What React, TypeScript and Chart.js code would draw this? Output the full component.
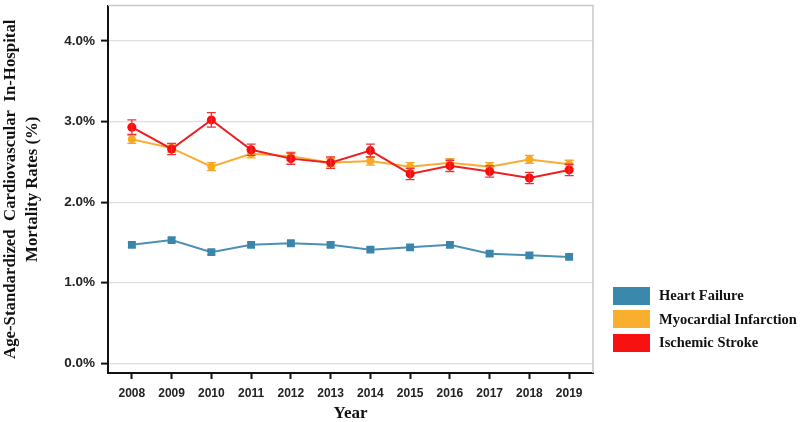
import { useEffect, useRef } from "react";
import { Chart, registerables } from "chart.js";
Chart.register(...registerables);

const years = [2008, 2009, 2010, 2011, 2012, 2013, 2014, 2015, 2016, 2017, 2018, 2019];
const heartFailure = [1.47, 1.53, 1.38, 1.47, 1.49, 1.47, 1.41, 1.44, 1.47, 1.36, 1.34, 1.32];
const myocardialInfarction = [2.78, 2.67, 2.44, 2.6, 2.57, 2.49, 2.51, 2.44, 2.49, 2.44, 2.53, 2.47];
const ischemicStroke = [2.93, 2.66, 3.02, 2.65, 2.54, 2.49, 2.64, 2.35, 2.45, 2.38, 2.3, 2.4];
const heartFailureErr = [0.03, 0.03, 0.03, 0.03, 0.03, 0.03, 0.03, 0.03, 0.03, 0.03, 0.03, 0.03];
const myocardialInfarctionErr = [0.05, 0.05, 0.05, 0.05, 0.05, 0.05, 0.05, 0.05, 0.05, 0.05, 0.05, 0.05];
const ischemicStrokeErr = [0.09, 0.07, 0.09, 0.07, 0.07, 0.07, 0.08, 0.07, 0.07, 0.07, 0.07, 0.07];
const yTicks = [0, 1, 2, 3, 4];

const legendItems = [
  { label: "Heart Failure", color: "#3b88ad" },
  { label: "Myocardial Infarction", color: "#f9ae2d" },
  { label: "Ischemic Stroke", color: "#f71111" },
];

// error bars with small caps, drawn right after each dataset
const errorBars = {
  id: "errorBars",
  afterDatasetDraw(chart: any, args: any) {
    const ds: any = chart.data.datasets[args.index];
    if (!ds.errors) return;
    const { ctx, scales } = chart;
    const yScale = scales.y;
    ctx.save();
    ctx.strokeStyle = ds.errorColor;
    ctx.lineWidth = 1.3;
    args.meta.data.forEach((pt: any, i: number) => {
      const v = ds.data[i].y;
      const e = ds.errors[i];
      const y1 = yScale.getPixelForValue(v - e);
      const y2 = yScale.getPixelForValue(v + e);
      const x = pt.x;
      const w = ds.capWidth;
      ctx.beginPath();
      ctx.moveTo(x, y1);
      ctx.lineTo(x, y2);
      ctx.moveTo(x - w, y1);
      ctx.lineTo(x + w, y1);
      ctx.moveTo(x - w, y2);
      ctx.lineTo(x + w, y2);
      ctx.stroke();
    });
    ctx.restore();
  },
};

// light gray top and right frame
const frame = {
  id: "frame",
  beforeDatasetsDraw(chart: any) {
    const { ctx, chartArea } = chart;
    ctx.save();
    ctx.strokeStyle = "#c8c8c8";
    ctx.lineWidth = 1.5;
    ctx.beginPath();
    ctx.moveTo(chartArea.left, chartArea.top);
    ctx.lineTo(chartArea.right, chartArea.top);
    ctx.lineTo(chartArea.right, chartArea.bottom);
    ctx.stroke();
    ctx.restore();
  },
};

const toPoints = (vals: number[]) => vals.map((v, i) => ({ x: years[i], y: v }));

export default function App() {
  const chartRef = useRef<HTMLCanvasElement>(null);
  const chartInstance = useRef<Chart | null>(null);

  useEffect(() => {
    if (!chartRef.current) return;
    if (chartInstance.current) chartInstance.current.destroy();

    const sans = "'Liberation Sans', Arial, sans-serif";
    const titleFont = { family: "'Liberation Serif', 'Times New Roman', serif", weight: "bold" as const };

    chartInstance.current = new Chart(chartRef.current, {
      type: "line",
      data: {
        datasets: [
          {
            label: "Ischemic Stroke",
            data: toPoints(ischemicStroke),
            errors: ischemicStrokeErr,
            errorColor: "#e8343a",
            capWidth: 4.5,
            borderColor: "#ec1f24",
            backgroundColor: "#ff0a0a",
            borderWidth: 2,
            pointRadius: 4.5,
            pointBorderWidth: 0,
            order: 0,
          },
          {
            label: "Myocardial Infarction",
            data: toPoints(myocardialInfarction),
            errors: myocardialInfarctionErr,
            errorColor: "#f2a534",
            capWidth: 4.5,
            borderColor: "#f7ad33",
            backgroundColor: "#fbaa1c",
            borderWidth: 2,
            pointRadius: 4,
            pointBorderWidth: 0,
            order: 1,
          },
          {
            label: "Heart Failure",
            data: toPoints(heartFailure),
            errors: heartFailureErr,
            errorColor: "#3b85aa",
            capWidth: 4,
            borderColor: "#4b8fb3",
            backgroundColor: "#3a86ab",
            borderWidth: 2,
            pointStyle: "rect",
            pointRadius: 5.5,
            pointBorderWidth: 0,
            order: 2,
          },
        ] as any,
      },
      options: {
        animation: false,
        responsive: true,
        maintainAspectRatio: false,
        layout: { padding: { top: 3, right: 207, left: 0, bottom: 0 } },
        plugins: {
          legend: { display: false },
          tooltip: { enabled: false },
        },
        scales: {
          x: {
            type: "linear",
            min: 2007.4,
            max: 2019.6,
            afterBuildTicks: (scale: any) => {
              scale.ticks = years.map((v) => ({ value: v }));
            },
            afterFit: (scale: any) => {
              scale.height = 49;
              scale.paddingLeft = 0;
              scale.paddingRight = 0;
            },
            border: { color: "#111", width: 2 },
            grid: { drawOnChartArea: false, tickColor: "#111", tickLength: 6, tickWidth: 2 },
            ticks: {
              color: "#222",
              font: { family: sans, size: 12, weight: "bold" },
              padding: 7,
              maxRotation: 0,
              callback: (v: any) => String(v),
            },
            title: {
              display: true,
              text: "Year",
              color: "#111",
              font: { ...titleFont, size: 17, lineHeight: 1 },
              padding: { top: 0, bottom: 0 },
            },
          },
          y: {
            min: -0.12,
            max: 4.44,
            afterBuildTicks: (scale: any) => {
              scale.ticks = yTicks.map((v) => ({ value: v }));
            },
            afterFit: (scale: any) => {
              scale.width = 108;
              scale.paddingTop = 0;
              scale.paddingBottom = 0;
            },
            border: { color: "#111", width: 2 },
            grid: { color: "#dedede", lineWidth: 1.2, tickColor: "#111", tickLength: 7, tickWidth: 2 },
            ticks: {
              color: "#222",
              font: { family: sans, size: 13.5, weight: "bold" },
              padding: 6,
              callback: (v: any) => Number(v).toFixed(1) + "%",
            },
            title: {
              display: true,
              text: ["Age-Standardized  Cardiovascular  In-Hospital", "Mortality Rates (%)"],
              color: "#111",
              font: { ...titleFont, size: 16.8, lineHeight: 1.3 },
              padding: { top: 0, bottom: 0 },
            },
          },
        },
      },
      plugins: [frame, errorBars],
    });

    return () => {
      chartInstance.current?.destroy();
    };
  }, []);

  return (
    <div style={{ position: "absolute", left: 0, top: 0, width: 800, height: 422, background: "#fff" }}>
      <canvas ref={chartRef}></canvas>
      <div style={{ position: "absolute", left: 613, top: 284 }}>
        {legendItems.map((item) => (
          <div key={item.label} style={{ display: "flex", alignItems: "center", height: 23.5 }}>
            <div style={{ width: 37, height: 18, background: item.color, marginRight: 9 }} />
            <span
              style={{
                fontFamily: "'Liberation Serif', 'Times New Roman', serif",
                fontWeight: "bold",
                fontSize: 14.5,
                color: "#111",
                whiteSpace: "nowrap",
              }}
            >
              {item.label}
            </span>
          </div>
        ))}
      </div>
    </div>
  );
}
